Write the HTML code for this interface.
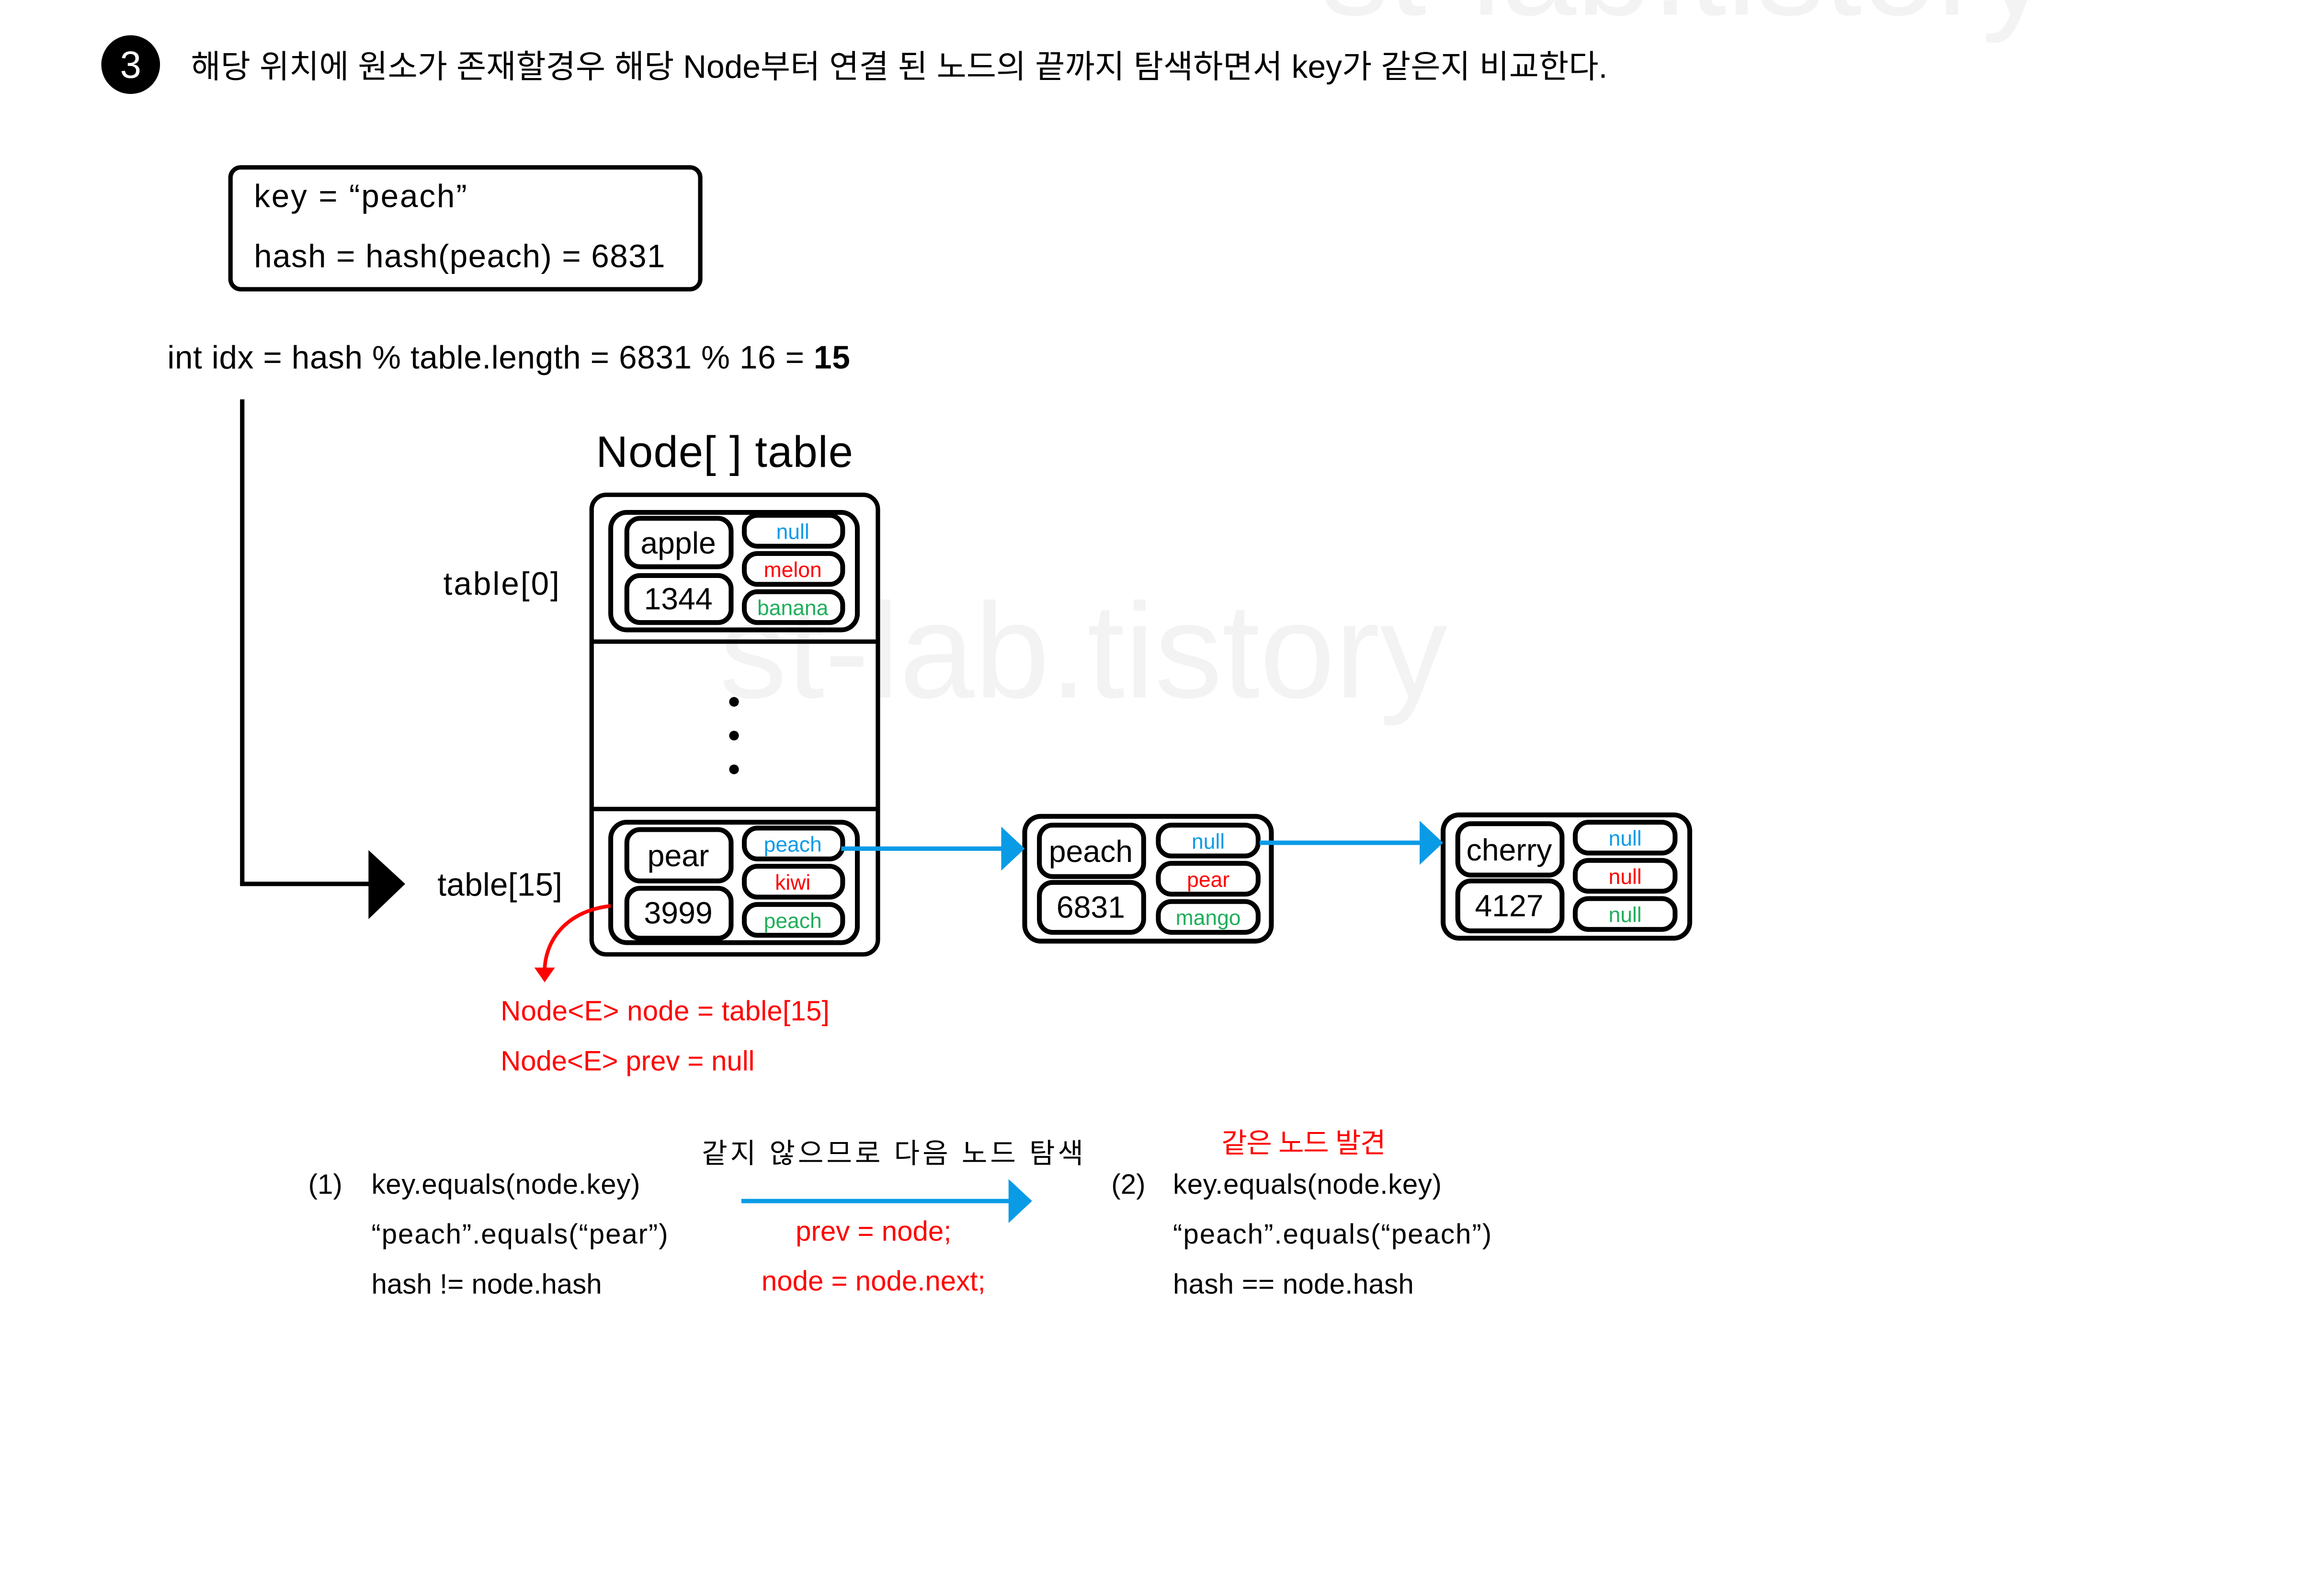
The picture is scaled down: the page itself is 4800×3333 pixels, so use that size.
<!DOCTYPE html>
<html><head><meta charset="utf-8"><style>
html,body{margin:0;padding:0;background:#fff;}
svg{display:block;}
text{font-family:"Liberation Sans","Noto Sans CJK KR",sans-serif;}
</style></head><body>
<svg width="4800" height="3333" viewBox="0 0 1566 1087" preserveAspectRatio="none" xmlns="http://www.w3.org/2000/svg">
<rect width="1566" height="1087" fill="#fff"/>
<text x="490" y="475" font-size="92" fill="#f3f3f3">st-lab.tistory</text>
<text x="900" y="10" font-size="92" fill="#f3f3f3">st-lab.tistory</text>
<circle cx="89" cy="44" r="20" fill="#000"/>
<text x="89" y="53" font-size="26" fill="#fff" text-anchor="middle">3</text>
<text x="130" y="53" font-size="22" fill="#000" textLength="965" lengthAdjust="spacingAndGlyphs">해당 위치에 원소가 존재할경우 해당 Node부터 연결 된 노드의 끝까지 탐색하면서 key가 같은지 비교한다.</text>
<rect x="157" y="114" width="320" height="83" rx="7" fill="none" stroke="#000" stroke-width="3"/>
<text x="173" y="141" font-size="22" textLength="145">key = “peach”</text>
<text x="173" y="182" font-size="22" textLength="280">hash = hash(peach) = 6831</text>
<text x="114" y="251" font-size="22" textLength="465">int idx = hash % table.length = 6831 % 16 = <tspan font-weight="bold">15</tspan></text>
<polyline points="165,272 165,602 254,602" fill="none" stroke="#000" stroke-width="3"/>
<polygon points="251,579 276,602 251,626" fill="#000"/>
<text x="406" y="318" font-size="30" textLength="175">Node[ ] table</text>
<rect x="403" y="337" width="195" height="313" rx="10" fill="none" stroke="#000" stroke-width="3"/>
<line x1="403" y1="437" x2="598" y2="437" stroke="#000" stroke-width="3"/>
<line x1="403" y1="551" x2="598" y2="551" stroke="#000" stroke-width="3"/>
<text x="302" y="405" font-size="22" textLength="79">table[0]</text>
<text x="298" y="610" font-size="22" textLength="85">table[15]</text>
<circle cx="500" cy="478" r="3.3"/><circle cx="500" cy="501" r="3.3"/><circle cx="500" cy="524" r="3.3"/>
<g fill="none" stroke="#000" stroke-width="3.3">
<rect x="416" y="349" width="168" height="80" rx="11"/>
<rect x="427" y="353" width="71" height="33" rx="9"/>
<rect x="427" y="392" width="71" height="32" rx="9"/>
<rect x="507" y="351" width="67" height="21" rx="9"/>
<rect x="507" y="377" width="67" height="21" rx="9"/>
<rect x="507" y="403" width="67" height="21" rx="9"/>
<rect x="416" y="560" width="168" height="82" rx="11"/>
<rect x="427" y="565" width="71" height="35" rx="9"/>
<rect x="427" y="605" width="71" height="34" rx="9"/>
<rect x="507" y="564" width="67" height="21" rx="9"/>
<rect x="507" y="590" width="67" height="21" rx="9"/>
<rect x="507" y="616" width="67" height="21" rx="9"/>
<rect x="698" y="556" width="168" height="85" rx="11"/>
<rect x="708" y="562" width="71" height="35" rx="9"/>
<rect x="708" y="601" width="71" height="34" rx="9"/>
<rect x="789" y="562" width="68" height="21" rx="9"/>
<rect x="789" y="588" width="68" height="21" rx="9"/>
<rect x="789" y="614" width="68" height="21" rx="9"/>
<rect x="983" y="555" width="168" height="84" rx="11"/>
<rect x="993" y="561" width="71" height="35" rx="9"/>
<rect x="993" y="600" width="71" height="34" rx="9"/>
<rect x="1073" y="560" width="68" height="21" rx="9"/>
<rect x="1073" y="586" width="68" height="21" rx="9"/>
<rect x="1073" y="612" width="68" height="21" rx="9"/>
</g>
<g font-size="21" text-anchor="middle">
<text x="462" y="377">apple</text><text x="462" y="415">1344</text>
<text x="462" y="590">pear</text><text x="462" y="629">3999</text>
<text x="743" y="587">peach</text><text x="743" y="625">6831</text>
<text x="1028" y="586">cherry</text><text x="1028" y="624">4127</text>
</g>
<g font-size="14.5" text-anchor="middle">
<text x="540" y="367" fill="#0a9be6">null</text>
<text x="540" y="393" fill="#f00">melon</text>
<text x="540" y="419" fill="#1fae5a">banana</text>
<text x="540" y="580" fill="#0a9be6">peach</text>
<text x="540" y="606" fill="#f00">kiwi</text>
<text x="540" y="632" fill="#1fae5a">peach</text>
<text x="823" y="578" fill="#0a9be6">null</text>
<text x="823" y="604" fill="#f00">pear</text>
<text x="823" y="630" fill="#1fae5a">mango</text>
<text x="1107" y="576" fill="#0a9be6">null</text>
<text x="1107" y="602" fill="#f00">null</text>
<text x="1107" y="628" fill="#1fae5a">null</text>
</g>
<line x1="573" y1="578" x2="685" y2="578" stroke="#0a9be6" stroke-width="3"/>
<polygon points="682,563 698,578 682,593" fill="#0a9be6"/>
<line x1="858" y1="574" x2="970" y2="574" stroke="#0a9be6" stroke-width="3"/>
<polygon points="967,559 983,574 967,589" fill="#0a9be6"/>
<path d="M416,617 C388,620 372,638 371,660" fill="none" stroke="#f00" stroke-width="2.5"/>
<polygon points="364,659 378,659 371,669" fill="#f00"/>
<g font-size="19" fill="#f00">
<text x="341" y="695" textLength="224">Node&lt;E&gt; node = table[15]</text>
<text x="341" y="729" textLength="173">Node&lt;E&gt; prev = null</text>
</g>
<g font-size="19">
<text x="210" y="813">(1)</text>
<text x="253" y="813" textLength="183">key.equals(node.key)</text>
<text x="253" y="847" textLength="202">“peach”.equals(“pear”)</text>
<text x="253" y="881" textLength="157">hash != node.hash</text>
<text x="478" y="792" textLength="260">같지 않으므로 다음 노드 탐색</text>
<text x="757" y="813">(2)</text>
<text x="799" y="813" textLength="183">key.equals(node.key)</text>
<text x="799" y="847" textLength="217">“peach”.equals(“peach”)</text>
<text x="799" y="881" textLength="164">hash == node.hash</text>
</g>
<line x1="505" y1="818" x2="690" y2="818" stroke="#0a9be6" stroke-width="3"/>
<polygon points="687,803 703,818 687,833" fill="#0a9be6"/>
<g font-size="19" fill="#f00">
<text x="595" y="845" text-anchor="middle">prev = node;</text>
<text x="595" y="879" text-anchor="middle">node = node.next;</text>
<text x="832" y="785" textLength="112">같은 노드 발견</text>
</g>
</svg>
</body></html>
